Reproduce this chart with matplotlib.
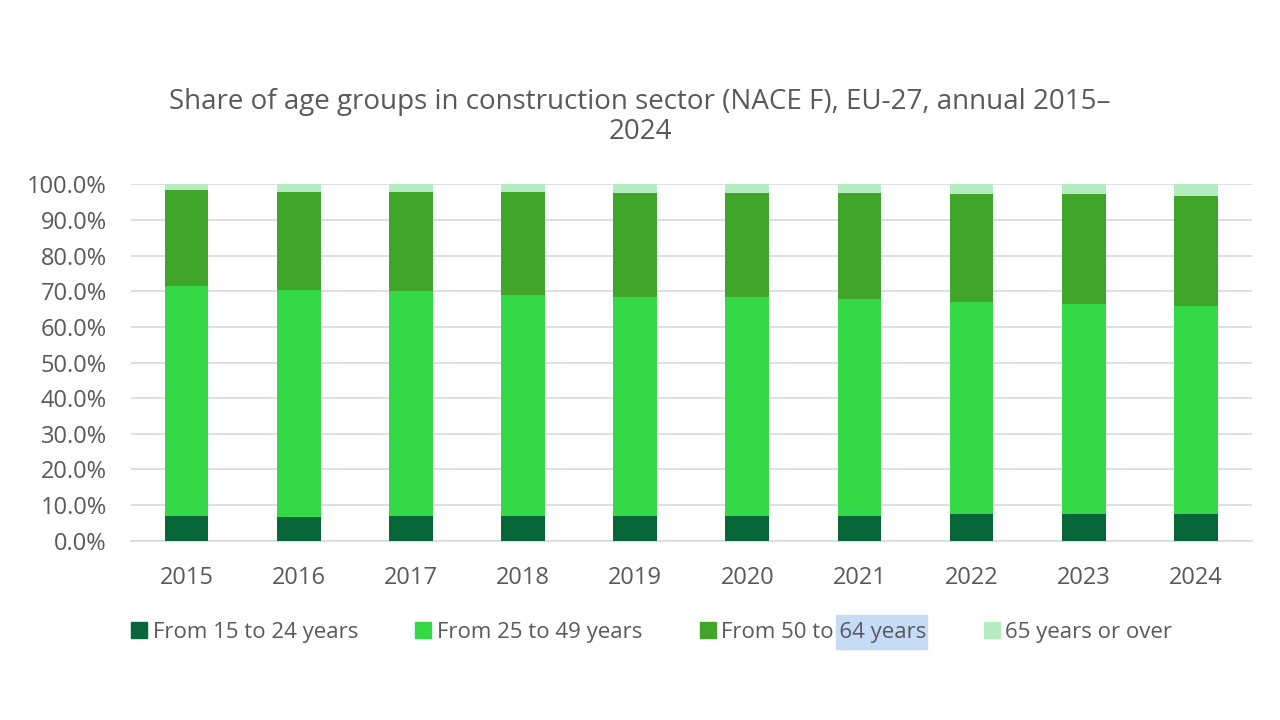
import matplotlib.pyplot as plt
import numpy as np
from matplotlib.patches import Rectangle
from matplotlib.lines import Line2D

plt.rcParams['font.family'] = ['Open Sans', 'DejaVu Sans']

years = ['2015', '2016', '2017', '2018', '2019', '2020', '2021', '2022', '2023', '2024']
age_15_24 = [7.0, 6.6, 7.0, 7.0, 7.0, 6.8, 7.0, 7.4, 7.5, 7.6]
age_25_49 = [64.4, 63.8, 63.0, 61.9, 61.4, 61.5, 60.8, 59.5, 58.9, 58.2]
age_50_64 = [26.9, 27.5, 27.8, 28.9, 29.3, 29.4, 29.7, 30.3, 30.8, 30.9]
age_65_plus = [1.7, 2.1, 2.2, 2.2, 2.3, 2.3, 2.5, 2.8, 2.8, 3.3]

labels = ['From 15 to 24 years', 'From 25 to 49 years', 'From 50 to 64 years', '65 years or over']
colors = ['#07663a', '#35d846', '#42a52b', '#b5ecc0']
text_col = '#595959'

series = [age_15_24, age_25_49, age_50_64, age_65_plus]

fig = plt.figure(figsize=(12.8, 7.2), dpi=100)
ax = fig.add_axes([0.102, 0.249, 0.876, 0.495])

x = np.arange(len(years))
bottom = np.zeros(len(years))
for vals, col, lab in zip(series, colors, labels):
    ax.bar(x, vals, width=0.39, bottom=bottom, color=col, label=lab, zorder=3)
    bottom += np.array(vals)

ax.set_xlim(-0.5, len(years) - 0.5)
ax.set_ylim(0, 100)
ax.set_yticks(np.arange(0, 101, 10))
ax.set_yticklabels([f'{v:.1f}%' for v in range(0, 101, 10)])
ax.set_xticks(x)
ax.set_xticklabels(years)
ax.grid(axis='y', color='#d9d9d9', linewidth=1.2, zorder=0)
for s in ['top', 'right', 'left']:
    ax.spines[s].set_visible(False)
ax.spines['bottom'].set_color('#d9d9d9')
ax.spines['bottom'].set_linewidth(1.2)
ax.tick_params(axis='both', length=0, labelsize=17, labelcolor=text_col)
ax.tick_params(axis='x', pad=18)
ax.tick_params(axis='y', pad=17)

fig.text(0.5, 0.838, 'Share of age groups in construction sector (NACE F), EU-27, annual 2015–\n2024',
         ha='center', va='center', fontsize=20, color=text_col, linespacing=1.1)

handles = [Line2D([], [], marker='s', linestyle='none', markersize=12,
                  markerfacecolor=c, markeredgecolor=c) for c in colors]
leg = fig.legend(handles, labels, loc='center', bbox_to_anchor=(0.508, 0.122), ncol=4,
                 frameon=False, fontsize=16, labelcolor=text_col, handletextpad=0.1,
                 columnspacing=2.45, handlelength=1.0)

# selection highlight over "64 years" seen in the source image
fig.canvas.draw()
r = fig.canvas.get_renderer()
t = leg.get_texts()[2]
bb = t.get_window_extent(r)
tmp = fig.text(0, 0, 'From 50 to ', fontsize=16)
pre_w = tmp.get_window_extent(r).width
tmp.remove()
W, H = fig.bbox.width, fig.bbox.height
fig.patches.append(Rectangle(((bb.x0 + pre_w - 3) / W, (bb.y0 + bb.height / 2 - 17) / H),
                             (bb.width - pre_w + 4) / W, 34 / H,
                             transform=fig.transFigure, color='#c6dbf5', zorder=0))

fig.savefig('out.png', dpi=100)
